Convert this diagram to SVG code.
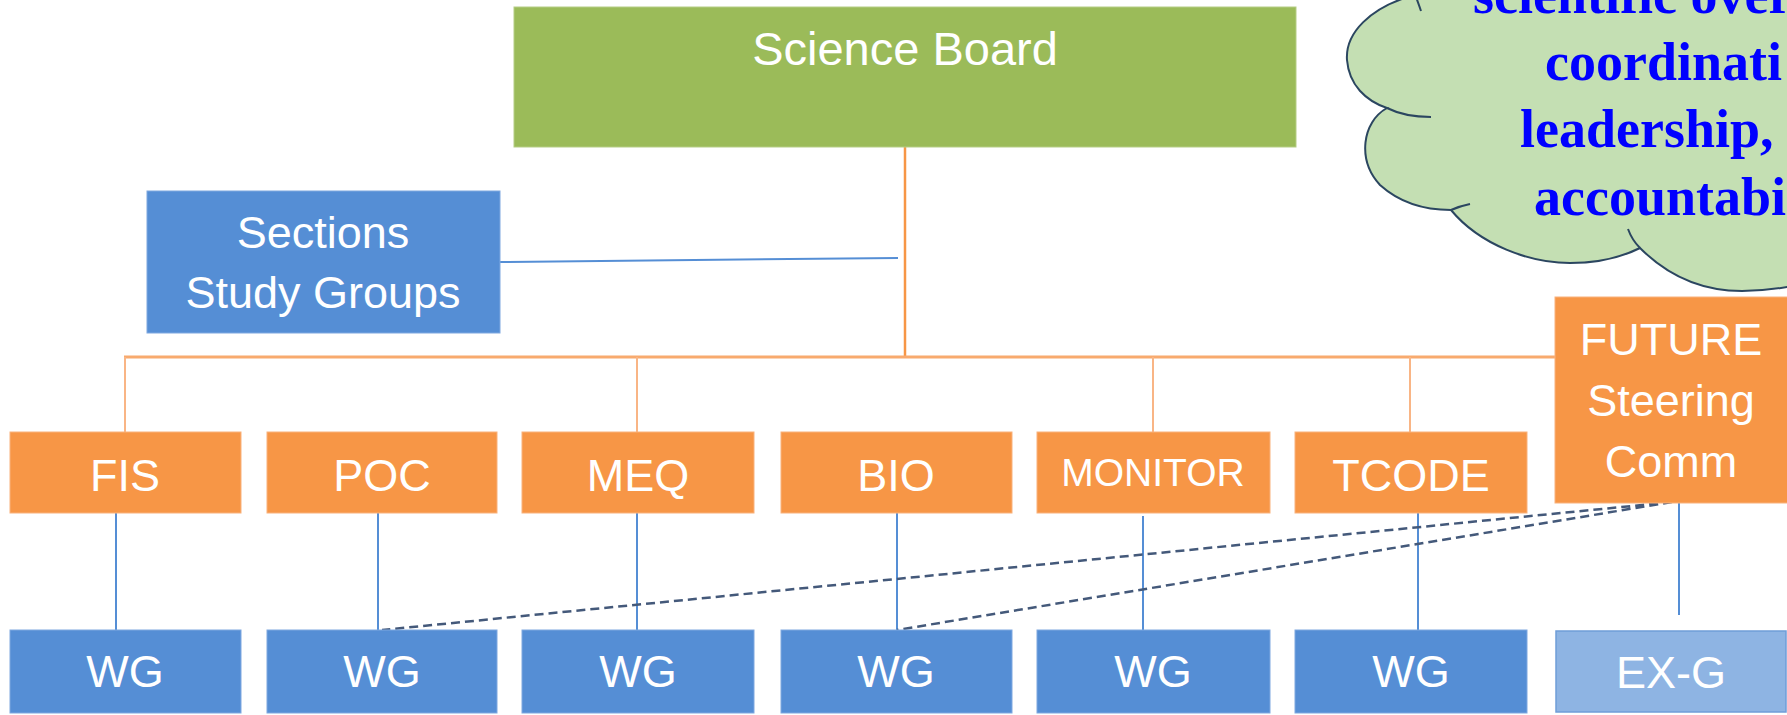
<svg xmlns="http://www.w3.org/2000/svg" width="1787" height="715" viewBox="0 0 1787 715">
<style>
.lbl{font-family:"Liberation Sans",Arial,sans-serif;fill:#fff;text-anchor:middle;font-size:45px}
.org{fill:#F79646;stroke:#F9B27C;stroke-width:1}
.blu{fill:#558ED5;stroke:#7FA8E0;stroke-width:1}
.bus{stroke:#F8AA6E;stroke-width:3;fill:none}
.drop{stroke:#F9B585;stroke-width:2;fill:none}
.bl{stroke:#558ED5;stroke-width:2;fill:none}
.dash{stroke:#44597A;stroke-width:2.5;stroke-dasharray:9 5;fill:none}
.cl{font-family:"Liberation Serif","Times New Roman",serif;font-weight:bold;font-size:54px;fill:#0000FF}
</style>
<rect width="1787" height="715" fill="#fff"/>
<g id="connectors">
<path class="bl" d="M500,262 L898,258"/>
<path d="M905,147 V357" stroke="#F79646" stroke-width="2.5" fill="none"/>
<path class="bus" d="M124,357 H1556"/>
<path class="drop" d="M125,357 V432 M637,357 V432 M1153,357 V432 M1410,357 V432"/>
<path class="bl" d="M116,513 V630 M378,513 V630 M637,513 V630 M897,513 V630 M1143,516 V630 M1418,513 V630 M1679,503 V615"/>
<path class="dash" d="M1672,502 L382,630 M1672,502 L897,630"/>
</g>
<g id="cloud">
<path d="M1408,-3 C1372,8 1345,32 1347,60 C1349,85 1366,101 1387,108 C1362,122 1357,160 1380,185 C1400,203 1425,210 1451,210 C1480,245 1530,263 1570,263 C1600,263 1622,257 1640,248 C1667,275 1702,291 1742,291 C1762,291 1777,289 1792,286 L1792,-5 Z" fill="#C4DFB3" stroke="#2B4660" stroke-width="2"/>
<path d="M1416,-3 Q1419,5 1421,11 M1387,108 Q1405,117 1431,117 M1451,210 Q1460,206 1470,204 M1628,229 Q1632,240 1640,248" fill="none" stroke="#2B4660" stroke-width="2"/>
<text class="cl" x="1473" y="13">scientific over</text>
<text class="cl" x="1545" y="80">coordinati</text>
<text class="cl" x="1520" y="147">leadership,</text>
<text class="cl" x="1534" y="215">accountabi</text>
</g>
<g id="science-board">
<rect x="514" y="7" width="782" height="140" fill="#9BBB59" stroke="#B5CD85" stroke-width="1"/>
<text class="lbl" x="905" y="65" style="font-size:47px">Science Board</text>
</g>
<g id="sections">
<rect class="blu" x="147" y="191" width="353" height="142"/>
<text class="lbl" x="323" y="248">Sections</text>
<text class="lbl" x="323" y="308">Study Groups</text>
</g>
<g id="fis"><rect class="org" x="10" y="432" width="231" height="81"/><text class="lbl" x="125" y="491">FIS</text></g>
<g id="poc"><rect class="org" x="267" y="432" width="230" height="81"/><text class="lbl" x="382" y="491">POC</text></g>
<g id="meq"><rect class="org" x="522" y="432" width="232" height="81"/><text class="lbl" x="638" y="491">MEQ</text></g>
<g id="bio"><rect class="org" x="781" y="432" width="231" height="81"/><text class="lbl" x="896" y="491">BIO</text></g>
<g id="monitor"><rect class="org" x="1037" y="432" width="233" height="81"/><text class="lbl" x="1153" y="486" style="font-size:39px">MONITOR</text></g>
<g id="tcode"><rect class="org" x="1295" y="432" width="232" height="81"/><text class="lbl" x="1411" y="491">TCODE</text></g>
<g id="future">
<rect class="org" x="1555" y="297" width="235" height="206"/>
<text class="lbl" x="1671" y="355">FUTURE</text>
<text class="lbl" x="1671" y="416">Steering</text>
<text class="lbl" x="1671" y="477">Comm</text>
</g>
<g id="wg1"><rect class="blu" x="10" y="630" width="231" height="83"/><text class="lbl" x="125" y="687">WG</text></g>
<g id="wg2"><rect class="blu" x="267" y="630" width="230" height="83"/><text class="lbl" x="382" y="687">WG</text></g>
<g id="wg3"><rect class="blu" x="522" y="630" width="232" height="83"/><text class="lbl" x="638" y="687">WG</text></g>
<g id="wg4"><rect class="blu" x="781" y="630" width="231" height="83"/><text class="lbl" x="896" y="687">WG</text></g>
<g id="wg5"><rect class="blu" x="1037" y="630" width="233" height="83"/><text class="lbl" x="1153" y="687">WG</text></g>
<g id="wg6"><rect class="blu" x="1295" y="630" width="232" height="83"/><text class="lbl" x="1411" y="687">WG</text></g>
<g id="exg"><rect x="1556" y="631" width="230" height="81" fill="#8EB4E3" stroke="#6F9DD8" stroke-width="1.5"/><text class="lbl" x="1671" y="688">EX-G</text></g>
</svg>
